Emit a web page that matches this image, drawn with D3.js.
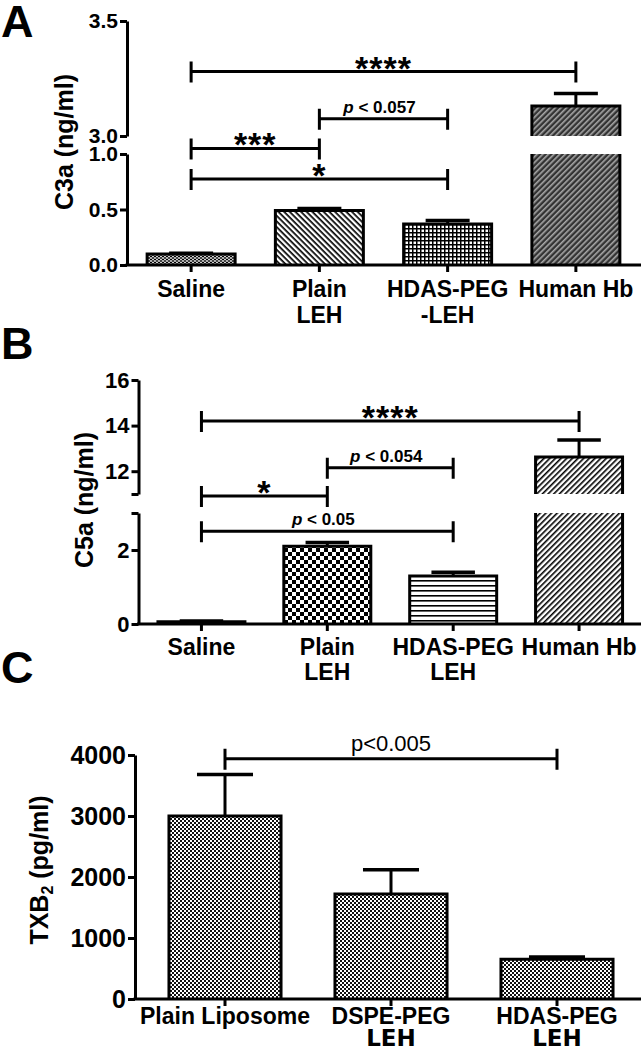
<!DOCTYPE html>
<html>
<head>
<meta charset="utf-8">
<script src="https://cdnjs.cloudflare.com/ajax/libs/d3/7.8.5/d3.min.js"></script>
<style>
body { margin: 0; background: #fff; }
text { font-family: "Liberation Sans", Arial, sans-serif; font-weight: bold; fill: #000; }
</style>
</head>
<body>
<div id="content"></div>
<script>
// ---- data ----
// panel A : C3a
var groupsA = ["Saline", "Plain|LEH", "HDAS-PEG|-LEH", "Human Hb"];
var c3aMean = [0.10, 0.49, 0.37, 3.13];
var c3aErr = [0.005, 0.02, 0.03, 0.055];
var c3aLowTicks = [0, 0.5, 1.0];
var c3aHighTicks = [3.0, 3.5];
var bracketsA = [
  {from: 0, to: 3, level: 3.28, label: "****"},
  {from: 1, to: 2, level: 3.075, label: "p < 0.057"},
  {from: 0, to: 1, level: 1.05, label: "***"},
  {from: 0, to: 2, level: 0.775, label: "*"}
];

// panel B : C5a
var groupsB = ["Saline", "Plain|LEH", "HDAS-PEG|LEH", "Human Hb"];
var c5aMean = [0.06, 2.1, 1.3, 12.62];
var c5aErr = [0.02, 0.1, 0.1, 0.75];
var c5aLowTicks = [0, 2, 3];
var c5aHighTicks = [11, 12, 14, 16];
var bracketsB = [
  {from: 0, to: 3, level: 14.2, label: "****"},
  {from: 1, to: 2, level: 12.15, label: "p < 0.054"},
  {from: 0, to: 1, level: 3.46, label: "*"},
  {from: 0, to: 2, level: 2.51, label: "p < 0.05"}
];

// panel C : TXB2
var groupsC = ["Plain Liposome", "DSPE-PEG|LEH", "HDAS-PEG|LEH"];
var txbMean = [3000, 1720, 650];
var txbErr = [680, 400, 40];
var txbTicks = [0, 1000, 2000, 3000, 4000];
var bracketsC = [
  {from: 0, to: 2, level: 3940, label: "p<0.005"}
];

// ---- svg ----
var svg = d3.select("#content")
  .append("svg")
  .attr("width", 643)
  .attr("height", 1050);

var defs = svg.append("defs");

function pattern(id, w, h, bg, rot) {
  var p = defs.append("pattern")
    .attr("id", id)
    .attr("patternUnits", "userSpaceOnUse")
    .attr("width", w)
    .attr("height", h);
  if (rot) p.attr("patternTransform", "rotate(" + rot + ")");
  p.append("rect").attr("width", w).attr("height", h).attr("fill", bg);
  return p;
}

// white dots on black
var p = pattern("dots", 4, 3, "#000");
p.append("circle").attr("cx", 1).attr("cy", 1.5).attr("r", 0.9).attr("fill", "#fff");
p.append("circle").attr("cx", 3).attr("cy", 0).attr("r", 0.9).attr("fill", "#fff");
p.append("circle").attr("cx", 3).attr("cy", 3).attr("r", 0.9).attr("fill", "#fff");
// "\" lines
p = pattern("diagBack", 4, 4, "#fff", 45);
p.append("rect").attr("y", 0).attr("width", 4).attr("height", 1.7).attr("fill", "#000");
// grid
p = pattern("grid", 4, 4, "#fff");
p.append("rect").attr("width", 4).attr("height", 1.5).attr("fill", "#000");
p.append("rect").attr("width", 1.5).attr("height", 4).attr("fill", "#000");
// dark "/" dashes
p = pattern("darkDiag", 4, 4, "#333", -45);
p.append("rect").attr("y", 0).attr("width", 4).attr("height", 1.6).attr("fill", "#a8a8a8");
// checkerboard
p = pattern("checker", 8, 8, "#fff");
p.append("rect").attr("width", 4).attr("height", 4).attr("fill", "#000");
p.append("rect").attr("x", 4).attr("y", 4).attr("width", 4).attr("height", 4).attr("fill", "#000");
// horizontal lines
p = pattern("hlines", 5, 5, "#fff");
p.append("rect").attr("width", 5).attr("height", 1.6).attr("fill", "#000");
// "/" lines
p = pattern("diagFwd", 4, 4, "#fff", -45);
p.append("rect").attr("y", 0).attr("width", 4).attr("height", 1.6).attr("fill", "#000");
// fine checker
p = pattern("fine", 4, 4, "#fff");
p.append("rect").attr("width", 2).attr("height", 2).attr("fill", "#111");
p.append("rect").attr("x", 2).attr("y", 2).attr("width", 2).attr("height", 2).attr("fill", "#111");

function drawPanel(cfg) {
  var g = svg.append("g");

  var x = d3.scaleBand()
    .domain(cfg.groups)
    .range(cfg.xRange)
    .paddingInner(cfg.pad)
    .paddingOuter(cfg.pad / 2);
  var bw = x.bandwidth();

  var yLow = d3.scaleLinear().domain(cfg.lowDomain).range(cfg.lowRange);
  var yHigh = cfg.highDomain ? d3.scaleLinear().domain(cfg.highDomain).range(cfg.highRange) : null;
  var y = function(v) {
    return (yHigh && v >= cfg.highDomain[0]) ? yHigh(v) : yLow(v);
  };
  var y0 = yLow(0);

  // bars
  cfg.groups.forEach(function(grp, i) {
    var x0 = x(grp), x1 = x0 + bw, v = cfg.mean[i];
    var fill = "url(#" + cfg.fills[i] + ")";
    var outline;
    if (yHigh && v >= cfg.highDomain[0]) {
      var lowTop = yLow(cfg.lowDomain[1]), highBot = yHigh(cfg.highDomain[0]);
      g.append("rect").attr("x", x0).attr("width", bw)
        .attr("y", lowTop).attr("height", y0 - lowTop).attr("fill", fill);
      g.append("rect").attr("x", x0).attr("width", bw)
        .attr("y", y(v)).attr("height", highBot - y(v)).attr("fill", fill);
      outline = "M" + x0 + "," + y0 + "V" + lowTop + "M" + x1 + "," + lowTop + "V" + y0 +
        "M" + x0 + "," + highBot + "V" + y(v) + "H" + x1 + "V" + highBot;
    } else {
      g.append("rect").attr("x", x0).attr("width", bw)
        .attr("y", y(v)).attr("height", y0 - y(v)).attr("fill", fill);
      outline = "M" + x0 + "," + y0 + "V" + y(v) + "H" + x1 + "V" + y0;
    }
    g.append("path").attr("d", outline)
      .attr("fill", "none").attr("stroke", "#000").attr("stroke-width", 3);

    // error bar (upper only)
    var cx = x0 + bw / 2, ye = y(v + cfg.err[i]);
    g.append("line").attr("x1", cx).attr("x2", cx).attr("y1", y(v)).attr("y2", ye)
      .attr("stroke", "#000").attr("stroke-width", 3);
    g.append("line").attr("x1", cx - bw / 4).attr("x2", cx + bw / 4).attr("y1", ye).attr("y2", ye)
      .attr("stroke", "#000").attr("stroke-width", 3.5);
  });

  // y axis (one or two segments)
  function yAxis(scale, ticks, fmt) {
    var a = g.append("g")
      .attr("transform", "translate(" + cfg.axisX + ",0)")
      .call(d3.axisLeft(scale).tickValues(ticks).tickSize(7).tickPadding(2).tickSizeOuter(0)
        .tickFormat(function(d) { return cfg.blank.indexOf(d) >= 0 ? "" : fmt(d); }));
    a.select(".domain").attr("stroke-width", 3);
    a.selectAll(".tick line").attr("stroke-width", 3);
    a.selectAll(".tick text").attr("font-size", cfg.tickFont).attr("fill", "#000");
  }
  yAxis(yLow, cfg.lowTicks, cfg.fmt);
  if (yHigh) yAxis(yHigh, cfg.highTicks, cfg.fmt);

  // x axis
  g.append("line").attr("x1", cfg.axisX - 1.5).attr("x2", 641).attr("y1", y0).attr("y2", y0)
    .attr("stroke", "#000").attr("stroke-width", 3);
  var xa = g.append("g")
    .attr("transform", "translate(0," + y0 + ")")
    .call(d3.axisBottom(x).tickSize(7).tickSizeOuter(0).tickFormat(""));
  xa.select(".domain").remove();
  xa.selectAll(".tick line").attr("stroke-width", 3);

  // category labels
  cfg.groups.forEach(function(grp) {
    var t = g.append("text")
      .attr("text-anchor", "middle")
      .attr("font-size", cfg.labelFont)
      .attr("x", x(grp) + bw / 2)
      .attr("y", y0 + cfg.labelDy);
    grp.split("|").forEach(function(line, j) {
      var s = t.append("tspan").attr("x", x(grp) + bw / 2).attr("dy", j ? cfg.lineGap : 0).text(line);
      if (j && cfg.secondFont) s.attr("font-family", cfg.secondFont).attr("font-size", cfg.secondSize);
    });
  });

  // y title
  var yt = g.append("text")
    .attr("text-anchor", "middle")
    .attr("font-size", 25)
    .attr("transform", "translate(" + cfg.titlePos[0] + "," + cfg.titlePos[1] + ") rotate(-90)");
  if (cfg.title === "TXB2 (pg/ml)") {
    yt.append("tspan").text("TXB");
    yt.append("tspan").attr("font-size", 16).attr("dy", 5).text("2");
    yt.append("tspan").attr("dy", -5).text(" (pg/ml)");
  } else {
    yt.text(cfg.title);
  }

  // panel letter
  g.append("text").attr("x", 1).attr("y", cfg.letterY).attr("font-size", 45).text(cfg.letter);

  // significance brackets
  cfg.brackets.forEach(function(b) {
    var xa1 = x(cfg.groups[b.from]) + bw / 2, xa2 = x(cfg.groups[b.to]) + bw / 2, yb = y(b.level);
    g.append("path")
      .attr("d", "M" + xa1 + "," + (yb - 10) + "V" + (yb + 11) + "M" + xa1 + "," + yb + "H" + xa2 +
        "M" + xa2 + "," + (yb - 10) + "V" + (yb + 11))
      .attr("fill", "none").attr("stroke", "#000").attr("stroke-width", 3);
    var t = g.append("text").attr("text-anchor", "middle").attr("x", (xa1 + xa2) / 2);
    if (b.label[0] === "*") {
      t.attr("font-size", 34).attr("letter-spacing", 1).attr("y", yb + 8).text(b.label);
    } else if (b.label.indexOf(" ") < 0) {
      t.attr("font-size", 22).style("font-weight", "normal").attr("y", yb - 8).text(b.label);
    } else {
      t.attr("font-size", 17).attr("y", yb - 6).attr("x", (xa1 + xa2) / 2 - 4);
      t.append("tspan").attr("font-style", "italic").text("p");
      t.append("tspan").text(b.label.slice(1));
    }
  });
}

drawPanel({
  letter: "A", letterY: 37,
  groups: groupsA, mean: c3aMean, err: c3aErr,
  fills: ["dots", "diagBack", "grid", "darkDiag"],
  xRange: [127, 640], pad: 0.314, axisX: 127,
  lowDomain: [0, 1.0], lowRange: [265, 154], lowTicks: c3aLowTicks,
  highDomain: [3.0, 3.5], highRange: [136, 21], highTicks: c3aHighTicks,
  blank: [], fmt: d3.format(".1f"), tickFont: 21,
  labelFont: 23, labelDy: 32, lineGap: 26,
  title: "C3a (ng/ml)", titlePos: [73, 142],
  brackets: bracketsA
});

drawPanel({
  letter: "B", letterY: 359,
  groups: groupsB, mean: c5aMean, err: c5aErr,
  fills: ["dots", "checker", "hlines", "diagFwd"],
  xRange: [138.5, 642], pad: 0.309, axisX: 138.5,
  lowDomain: [0, 3], lowRange: [624, 513], lowTicks: c5aLowTicks,
  highDomain: [11, 16], highRange: [494, 380], highTicks: c5aHighTicks,
  blank: [3, 11], fmt: d3.format("d"), tickFont: 22,
  labelFont: 23, labelDy: 31, lineGap: 25,
  title: "C5a (ng/ml)", titlePos: [93, 500],
  brackets: bracketsB
});

drawPanel({
  letter: "C", letterY: 683,
  groups: groupsC, mean: txbMean, err: txbErr,
  fills: ["fine", "fine", "fine"],
  xRange: [142, 640], pad: 0.325, axisX: 135,
  lowDomain: [0, 4000], lowRange: [999, 755], lowTicks: txbTicks,
  blank: [], fmt: d3.format("d"), tickFont: 25,
  labelFont: 23, labelDy: 25, lineGap: 22, secondFont: "DejaVu Sans", secondSize: 23,
  title: "TXB2 (pg/ml)", titlePos: [48, 870],
  brackets: bracketsC
});
</script>
</body>
</html>
